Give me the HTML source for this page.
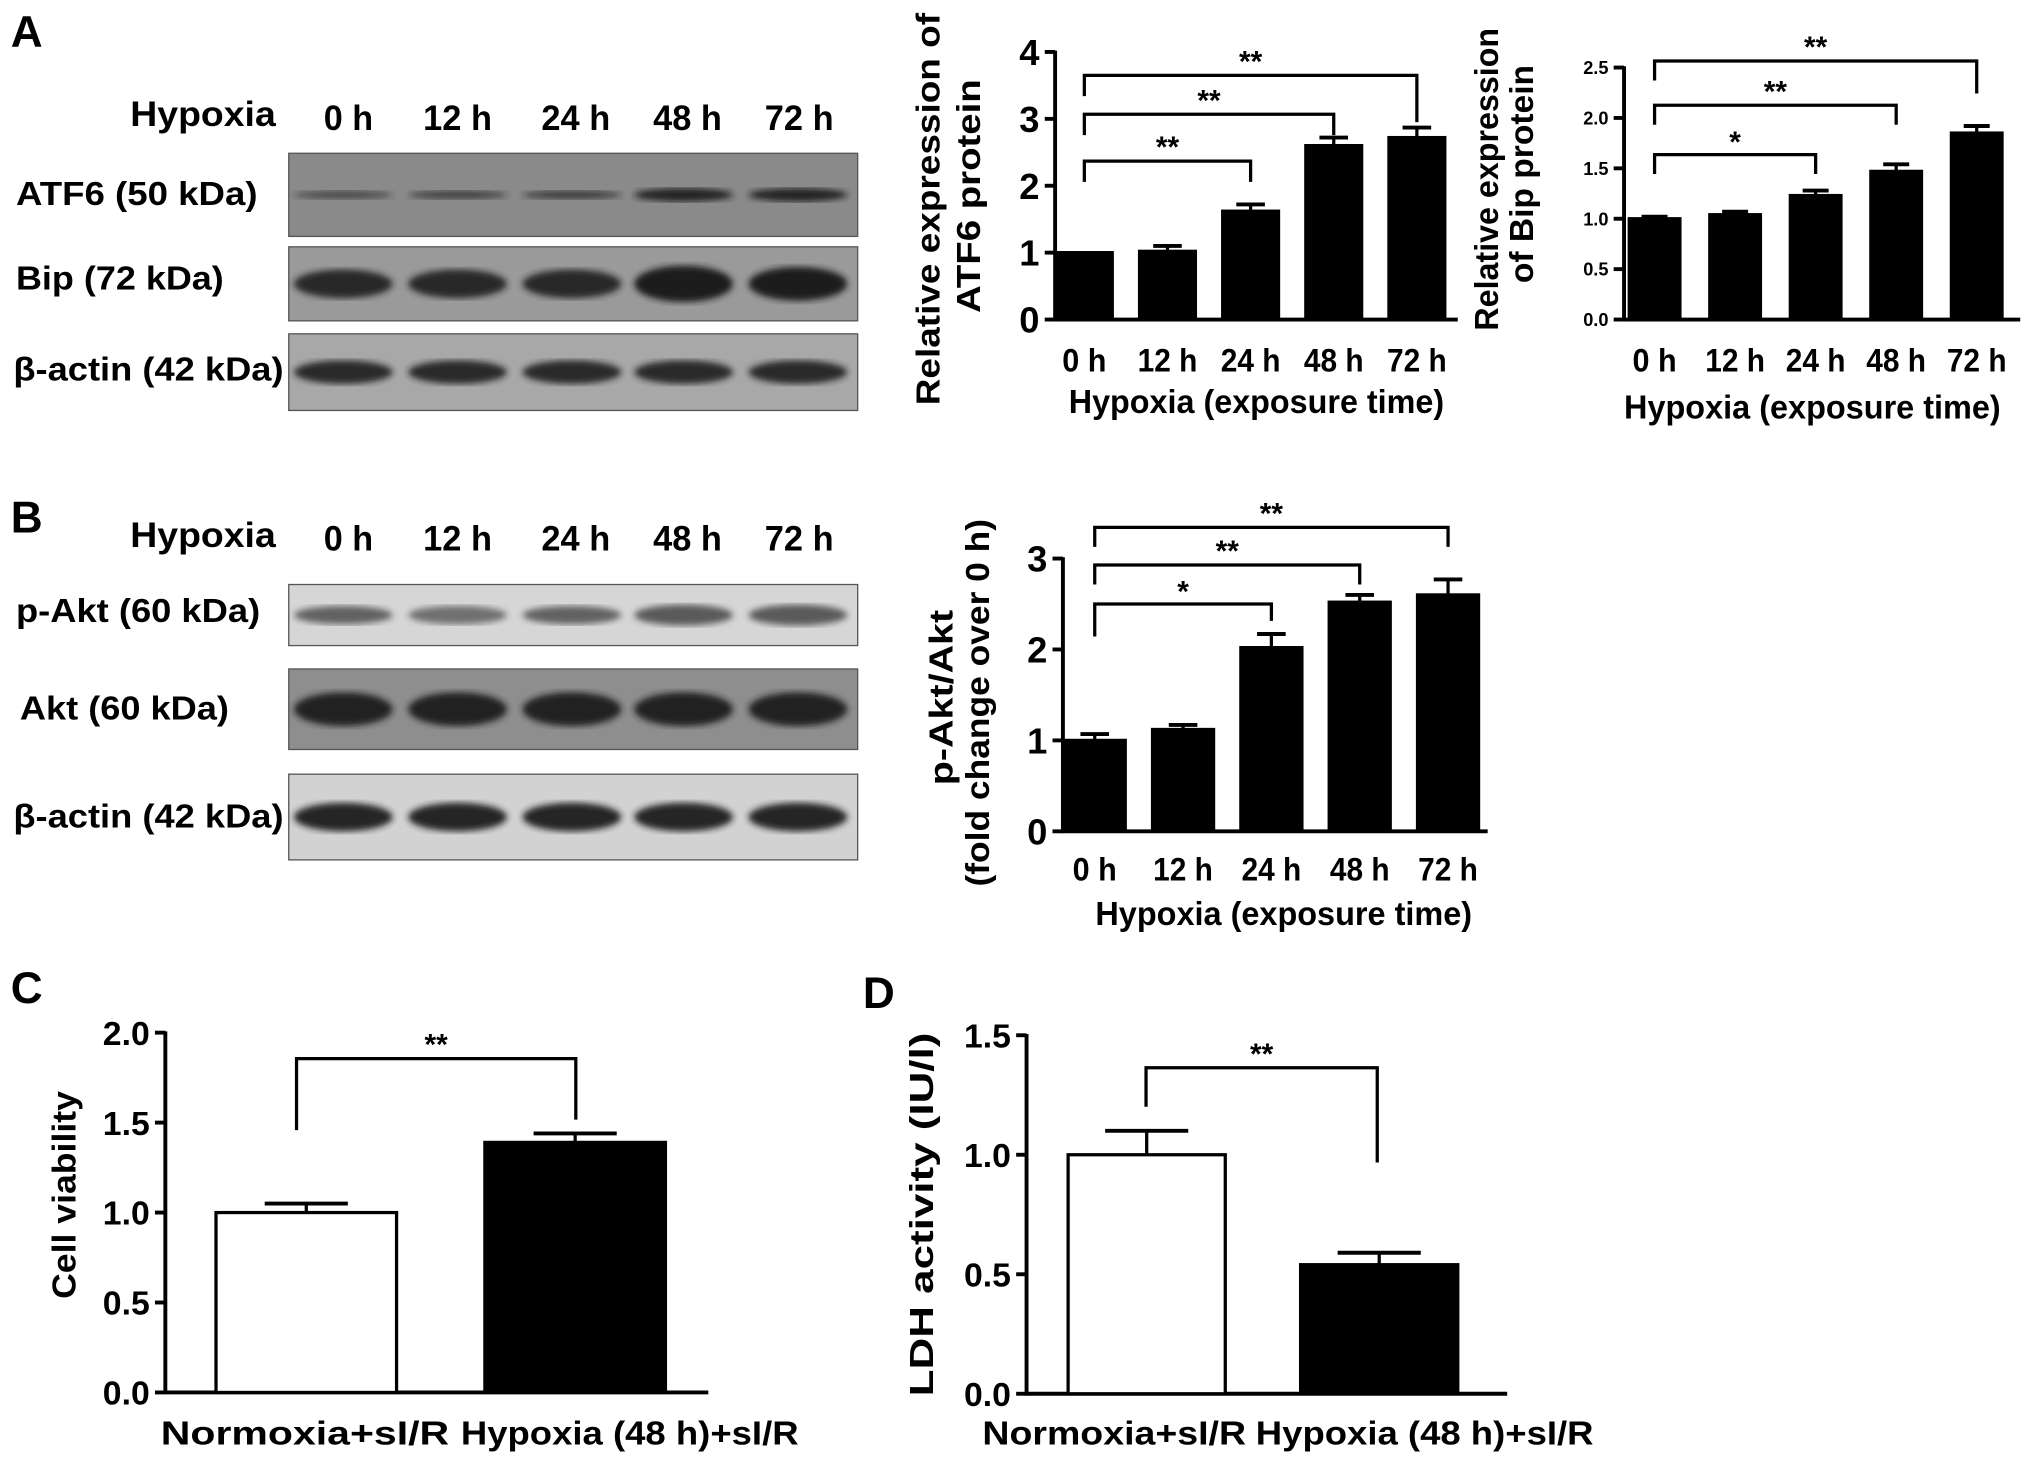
<!DOCTYPE html>
<html><head><meta charset="utf-8"><style>
html,body{margin:0;padding:0;background:#fff;}
svg{display:block;font-family:"Liberation Sans",Arial,sans-serif;font-weight:bold;}
</style></head><body>
<svg id="fig" width="2031" height="1460" viewBox="0 0 1563 1124" xmlns="http://www.w3.org/2000/svg">
<defs>
<filter id="blur2"><feGaussianBlur stdDeviation="2.5"/></filter>
</defs>
<g id="root"></g>
</svg>
<script>
// ---- chart data ----
const timeCats = ["0 h","12 h","24 h","48 h","72 h"];
const atf6Vals = [1.0, 1.02, 1.62, 2.6, 2.72];
const atf6Errs = [0.0, 0.08, 0.1, 0.12, 0.15];
const atf6Ticks = [0,1,2,3,4];
const bipVals = [1.0, 1.04, 1.23, 1.47, 1.85];
const bipErrs = [0.02, 0.03, 0.05, 0.07, 0.07];
const bipTicks = ["0.0","0.5","1.0","1.5","2.0","2.5"];
const aktVals = [1.0, 1.12, 2.02, 2.52, 2.6];
const aktErrs = [0.07, 0.05, 0.15, 0.08, 0.17];
const aktTicks = [0,1,2,3];
const grpCats = ["Normoxia+sI/R","Hypoxia (48 h)+sI/R"];
const viabVals = [1.0, 1.39];
const viabErrs = [0.05, 0.05];
const viabTicks = ["0.0","0.5","1.0","1.5","2.0"];
const ldhVals = [1.0, 0.54];
const ldhErrs = [0.1, 0.05];
const ldhTicks = ["0.0","0.5","1.0","1.5"];

const NS="http://www.w3.org/2000/svg";
const root=document.getElementById('root');
function mk(tag,attrs,parent,t){const e=document.createElementNS(NS,tag);for(const k in attrs)e.setAttribute(k,attrs[k]);if(t!==undefined)e.textContent=t;(parent||root).appendChild(e);return e;}
function txt(x,y,s,size,parent,anchor,rot,len){const a={x:x,y:y,'font-size':size,'text-anchor':anchor||'start',fill:'#000'};if(rot)a.transform=`rotate(-90 ${x} ${y})`;if(len){a.textLength=len;a.lengthAdjust='spacingAndGlyphs';}return mk('text',a,parent,s);}

// ---- panel letters ----
[["A",8,36],["B",8,410],["C",8,772],["D",664,776]].forEach(p=>{
  const t=txt(p[1],p[2],p[0],34);
  
  
});

// ---- western blots ----
const laneX=[260,348,436,522,610];
const laneLbl=[268,352,443,529,615];
function blot(g,y0,h,bg,bandColor,op,thick,name){
  const s=mk('g',{},g);
  
  
  mk('rect',{x:222,y:y0,width:438,height:h,fill:bg,stroke:'#555','stroke-width':1},s);
  laneX.forEach((cx,i)=>{
    mk('ellipse',{cx:cx+4,cy:y0+h/2,rx:38,ry:thick[i],fill:bandColor,filter:'url(#blur2)',opacity:op[i]},s);
  });
}
function blotLabels(g,y,name){
  const hg=mk('g',{},g);
  
  
  txt(100,y,"Hypoxia",27,hg,'start',false,112);
  timeCats.forEach((c,i)=>txt(laneLbl[i],y+3,c,27,hg,'middle',false,c.length>3?53:38));
}
const gA=mk('g',{});


blotLabels(gA,97,'blot-a-header');
blot(gA,118,64,'#8a8a8a','#1a1a1a',[0.6,0.7,0.75,0.95,0.95],[3,3,3,5,5],'atf6-blot');
blot(gA,190,57,'#9a9a9a','#1c1c1c',[0.9,0.9,0.9,1,1],[11,11,11,14,13],'bip-blot');
blot(gA,257,59,'#a8a8a8','#1e1e1e',[0.9,0.9,0.9,0.9,0.9],[9,9,9,9,9],'actin-blot-a');
txt(12,158,"ATF6 (50 kDa)",26,gA,'start',false,186);
txt(12,223,"Bip (72 kDa)",26,gA,'start',false,160);
txt(10,293,"β-actin (42 kDa)",26,gA,'start',false,208);

const gB=mk('g',{});


blotLabels(gB,421,'blot-b-header');
blot(gB,450,47,'#d6d6d6','#444',[0.8,0.7,0.8,0.85,0.85],[7,7,7,8,8],'pakt-blot');
blot(gB,515,62,'#8e8e8e','#1a1a1a',[0.95,0.95,0.95,0.95,0.95],[13,13,13,13,13],'akt-blot');
blot(gB,596,66,'#d2d2d2','#1a1a1a',[0.95,0.95,0.95,0.95,0.95],[11,11,11,11,11],'actin-blot-b');
txt(12,479,"p-Akt (60 kDa)",26,gB,'start',false,188);
txt(15,554,"Akt (60 kDa)",26,gB,'start',false,161);
txt(10,637,"β-actin (42 kDa)",26,gB,'start',false,208);

// ---- bar chart helper ----
function barChart(o){
  const g=mk('g',{});
  
  
  const y=v=>o.y0-(v-o.vmin)/(o.vmax-o.vmin)*(o.y0-o.y1);
  const xc=i=>o.bx0+o.bw/2+i*o.step;
  const ya=mk('line',{x1:o.ax,y1:o.y0,x2:o.ax,y2:o.y1-1,stroke:'#000','stroke-width':3},g);
  
  
  const xa=mk('line',{x1:o.ax-1,y1:o.y0,x2:o.axEnd,y2:o.y0,stroke:'#000','stroke-width':3},g);
  
  
  o.ticks.forEach(t=>{
    const v=parseFloat(t);const yy=y(v);
    mk('line',{x1:o.ax-8,y1:yy,x2:o.ax,y2:yy,stroke:'#000','stroke-width':3},g);
    const tl=txt(o.ax-12,yy+o.tfs*0.36,String(t),o.tfs,g,'end');
    
    
  });
  o.vals.forEach((v,i)=>{
    const x0=o.bx0+i*o.step;
    const r=mk('rect',{x:x0,y:y(v),width:o.bw,height:o.y0-y(v),fill:o.fills[i],stroke:'#000','stroke-width':2.5},g);
    
    
    const e=o.errs[i];
    if(e>0){
      const cx=xc(i),ew=o.capw;
      mk('line',{x1:cx,y1:y(v),x2:cx,y2:y(v+e),stroke:'#000','stroke-width':2.5},g);
      mk('line',{x1:cx-ew,y1:y(v+e),x2:cx+ew,y2:y(v+e),stroke:'#000','stroke-width':3},g);
    }
    const cl=txt(xc(i)+(o.catDx?o.catDx[i]:0),o.catY,o.cats[i],o.cfs,g,'middle',false,o.catLen?o.catLen[i]:(o.cats[i].length>3?46:34));
    
    
  });
  if(o.xtitle){const t=txt(o.xtX,o.xtY,o.xtitle,26,g,'middle',false,o.xtLen);
    }
  o.ytitle.forEach((s,k)=>{const t=txt(o.ytX[k],o.ytY[k],s,26,g,'middle',true,o.ytLen[k]);
    });
  o.sig.forEach(sg=>{
    const b=mk('g',{},g);
    
    
    const x1=sg.x1!==undefined?sg.x1:xc(sg.i), x2=sg.x2!==undefined?sg.x2:xc(sg.j);
    mk('polyline',{points:`${x1},${sg.ya} ${x1},${sg.y} ${x2},${sg.y} ${x2},${sg.yb}`,fill:'none',stroke:'#000','stroke-width':2.5},b);
    txt((x1+x2)/2,sg.y-3+(sg.s==='*'?1:0),sg.s,23,b,'middle');
  });
}

barChart({name:'atf6-chart',ax:812,axEnd:1122,y0:246,y1:40,vmin:0,vmax:4,ticks:atf6Ticks,tfs:28,
  vals:atf6Vals,errs:atf6Errs,cats:timeCats,fills:Array(5).fill('#000'),bx0:813,bw:43,step:64,capw:11,
  catY:286,cfs:25,xtitle:"Hypoxia (exposure time)",xtX:967,xtY:318,xtLen:289,
  ytitle:["Relative expression of","ATF6 protein"],ytX:[723,754],ytY:[161,151],ytLen:[302,180],
  sig:[{i:0,j:2,y:124,ya:140,yb:140,s:'**'},{i:0,j:3,y:88,ya:104,yb:104,s:'**'},{i:0,j:4,y:58,ya:74,yb:94,s:'**'}]});

barChart({name:'bip-chart',ax:1250,axEnd:1555,y0:246,y1:52,vmin:0,vmax:2.5,ticks:bipTicks,tfs:14,
  vals:bipVals,errs:bipErrs,cats:timeCats,fills:Array(5).fill('#000'),bx0:1254,bw:39,step:62,capw:10,
  catY:286,cfs:25,xtitle:"Hypoxia (exposure time)",xtX:1395,xtY:322,xtLen:290,
  ytitle:["Relative expression","of Bip protein"],ytX:[1153,1180],ytY:[138,134],ytLen:[233,168],
  sig:[{i:0,j:2,y:119,ya:134,yb:134,s:'*'},{i:0,j:3,y:81,ya:96,yb:96,s:'**'},{i:0,j:4,y:47,ya:62,yb:72,s:'**'}]});

barChart({name:'pakt-chart',ax:818,axEnd:1145,y0:640,y1:430,vmin:0,vmax:3,ticks:aktTicks,tfs:28,
  vals:aktVals,errs:aktErrs,cats:timeCats,fills:Array(5).fill('#000'),bx0:819,bw:47,step:68,capw:11,
  catY:678,cfs:25,xtitle:"Hypoxia (exposure time)",xtX:988,xtY:712,xtLen:290,
  ytitle:["p-Akt/Akt","(fold change over 0 h)"],ytX:[733,761],ytY:[537,541],ytLen:[135,283],
  sig:[{i:0,j:2,y:465,ya:490,yb:478,s:'*'},{i:0,j:3,y:435,ya:450,yb:450,s:'**'},{i:0,j:4,y:406,ya:421,yb:421,s:'**'}]});

barChart({name:'cell-viability-chart',ax:127,axEnd:545,y0:1072,y1:795,vmin:0,vmax:2,ticks:viabTicks,tfs:26,
  vals:viabVals,errs:viabErrs,cats:grpCats,fills:['#fff','#000'],bx0:166,bw:139,step:207,capw:32,
  catY:1112,cfs:26,catDx:[-1,42],catLen:[222,260],
  ytitle:["Cell viability"],ytX:[58],ytY:[920],ytLen:[160],
  sig:[{x1:228,x2:443,y:815,ya:870,yb:862,s:'**'}]});

barChart({name:'ldh-activity-chart',ax:790,axEnd:1160,y0:1073,y1:797,vmin:0,vmax:1.5,ticks:ldhTicks,tfs:26,
  vals:ldhVals,errs:ldhErrs,cats:grpCats,fills:['#fff','#000'],bx0:822,bw:121,step:179,capw:32,
  catY:1112,cfs:26,catDx:[-25,35],catLen:[203,260],
  ytitle:["LDH activity (IU/l)"],ytX:[718],ytY:[935],ytLen:[280],
  sig:[{x1:882,x2:1060,y:822,ya:852,yb:895,s:'**'}]});
</script>
</body></html>
